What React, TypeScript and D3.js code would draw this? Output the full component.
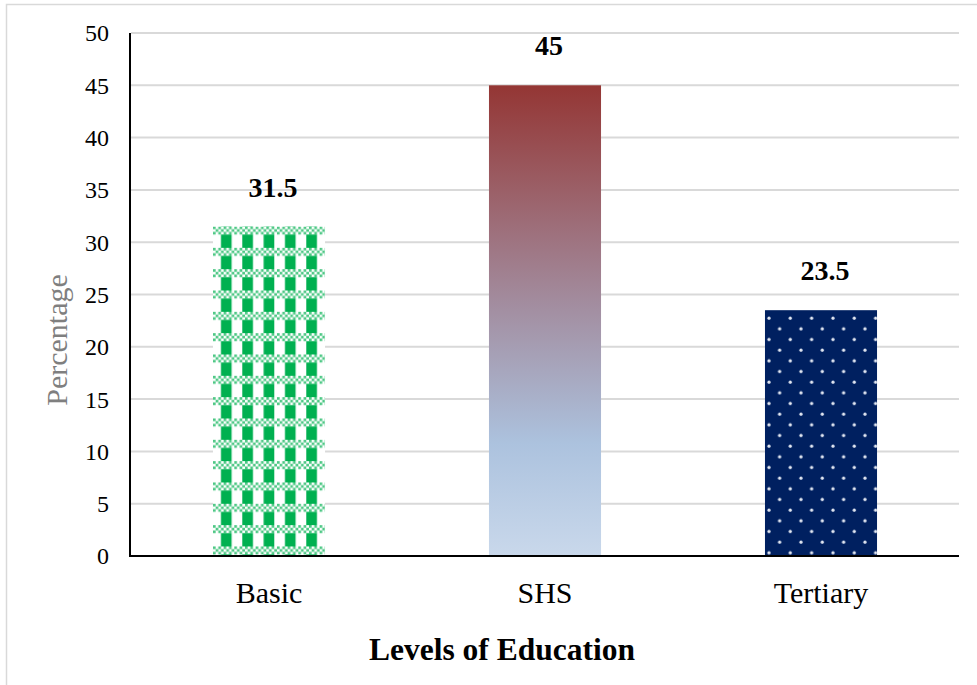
import React from 'react';
import * as d3 from 'd3';

const categories = ['Basic', 'SHS', 'Tertiary'];
const values = [31.5, 45, 23.5];
const yTicks = [0, 5, 10, 15, 20, 25, 30, 35, 40, 45, 50];

const W = 977;
const H = 685;
const FONT = '"Liberation Serif", "Times New Roman", serif';

const App: React.FC = () => {
  const y = d3.scaleLinear().domain([0, 50]).range([556, 33]);
  const x = d3.scaleBand<string>()
    .domain(categories)
    .range([131, 959])
    .paddingInner(0.594)
    .paddingOuter(0.297);

  const bw = x.bandwidth();
  const cell = 21.33;
  const u = cell / 8;

  // little checks along the top of each green cell
  const checks: { i: number; j: number }[] = [];
  for (let j = 0; j < 3; j++) {
    for (let i = 0; i < 8; i++) {
      if ((i + j) % 2 === 0) checks.push({ i, j });
    }
  }

  const basicX = x('Basic')!;
  const basicTop = y(values[0]);
  const terX = x('Tertiary')!;
  const terTop = y(values[2]);

  return (
    <svg width={W} height={H} style={{ position: 'absolute', left: 0, top: 0, background: '#fff' }}>
      <defs>
        <pattern id="green" patternUnits="userSpaceOnUse" x={basicX} y={basicTop} width={cell} height={cell}>
          <rect width={cell} height={cell} fill="#fff" />
          {checks.map((c, k) => (
            <rect key={k} x={c.i * u} y={c.j * u} width={u} height={u} fill="#00b050" opacity={0.7} />
          ))}
          <rect x={3 * u} y={3 * u} width={4 * u} height={5 * u} fill="#00b050" />
        </pattern>
        <pattern id="dots" patternUnits="userSpaceOnUse" x={terX} y={terTop} width={cell} height={cell}>
          <rect width={cell} height={cell} fill="#002060" />
          <circle cx={4} cy={8} r={1.6} fill="#e3e8f2" />
          <circle cx={4 + cell / 2} cy={8 + cell / 2} r={1.6} fill="#e3e8f2" />
        </pattern>
        <linearGradient id="shs" x1="0" y1="0" x2="0" y2="1">
          <stop offset="0" stopColor="#943634" />
          <stop offset="0.45" stopColor="#a28a9c" />
          <stop offset="0.76" stopColor="#acc2de" />
          <stop offset="1" stopColor="#c9d8eb" />
        </linearGradient>
      </defs>

      <rect x={6.5} y={4.5} width={975} height={700} fill="none" stroke="#d9d9d9" strokeWidth={1.5} />

      {yTicks.map(t => (
        <g key={t}>
          {t > 0 && (
            <line x1={131} x2={959} y1={y(t)} y2={y(t)} stroke="#d9d9d9" strokeWidth={2} />
          )}
          <text x={109} y={y(t)} dy="0.35em" textAnchor="end" fontFamily={FONT} fontSize={24} fill="#000">
            {t}
          </text>
        </g>
      ))}

      {categories.map((c, i) => {
        const fill = i === 0 ? 'url(#green)' : i === 1 ? 'url(#shs)' : 'url(#dots)';
        return (
          <g key={c}>
            <rect x={x(c)} y={y(values[i])} width={bw} height={y(0) - y(values[i])} fill={fill} />
            <text x={x(c)! + bw / 2 + 4} y={y(values[i]) - 30} textAnchor="middle" fontFamily={FONT}
              fontSize={28} fontWeight="bold" fill="#000">
              {values[i]}
            </text>
            <text x={x(c)! + bw / 2} y={603} textAnchor="middle" fontFamily={FONT} fontSize={30} fill="#000">
              {c}
            </text>
          </g>
        );
      })}

      <line x1={130} x2={130} y1={33} y2={557} stroke="#000" strokeWidth={2} />
      <line x1={129} x2={959} y1={556} y2={556} stroke="#000" strokeWidth={2} />

      <text transform="translate(67,340) rotate(-90)" textAnchor="middle" fontFamily={FONT} fontSize={30} fill="#7f7f7f">
        Percentage
      </text>
      <text x={502} y={660} textAnchor="middle" fontFamily={FONT} fontSize={31.5} fontWeight="bold" fill="#000">
        Levels of Education
      </text>
    </svg>
  );
};

export default App;
